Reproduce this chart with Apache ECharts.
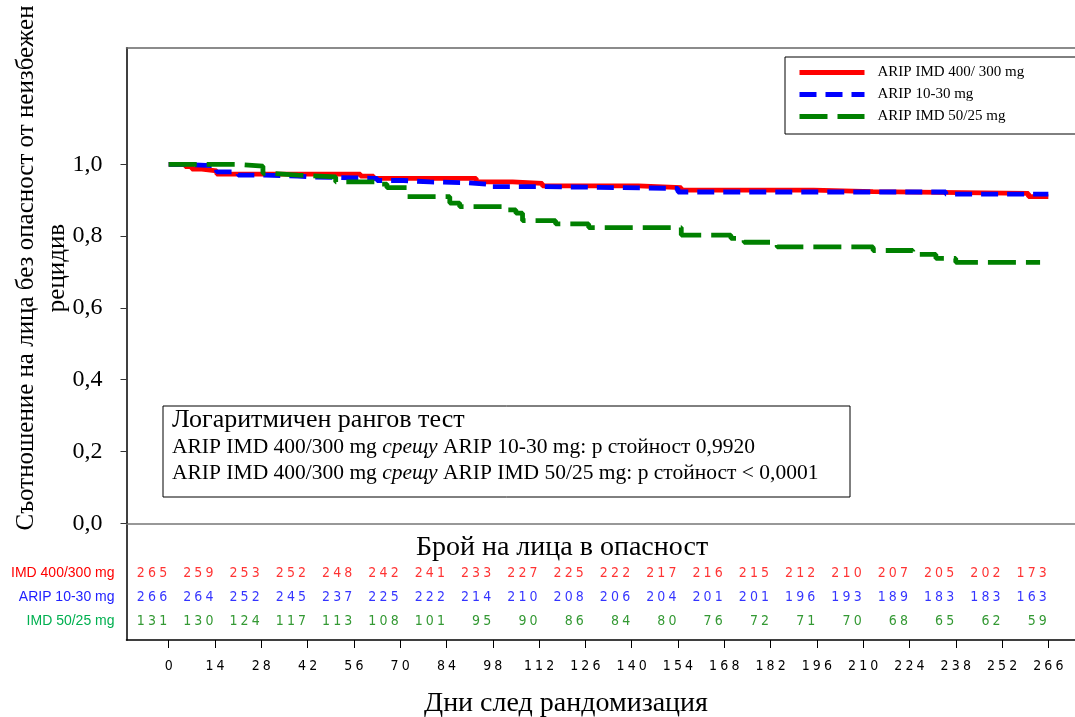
<!DOCTYPE html>
<html>
<head>
<meta charset="utf-8">
<script src="https://cdn.jsdelivr.net/npm/echarts@6/dist/echarts.min.js"></script>
<style>
html, body { margin:0; padding:0; background:#fff; }
#main { width:1075px; height:717px; }
</style>
</head>
<body>
<div id="main"></div>
<script>
// дни по оста X (и колони на таблицата "в опасност")
var tickDays = [0,14,28,42,56,70,84,98,112,126,140,154,168,182,196,210,224,238,252,266];
var yTicks = [0, 0.2, 0.4, 0.6, 0.8, 1.0];

var armNames = ['ARIP IMD 400/ 300 mg', 'ARIP 10-30 mg', 'ARIP IMD 50/25 mg'];
var rowNames = ['IMD 400/300 mg', 'ARIP 10-30 mg', 'IMD 50/25 mg'];

// брой на лица в опасност
var riskIMD400 = [265,259,253,252,248,242,241,233,227,225,222,217,216,215,212,210,207,205,202,173];
var riskARIP   = [266,264,252,245,237,225,222,214,210,208,206,204,201,201,196,193,189,183,183,163];
var riskIMD50  = [131,130,124,117,113,108,101,95,90,86,84,80,76,72,71,70,68,65,62,59];

// Kaplan-Meier стъпки (ден, дял без рецидив)
var kmIMD400Days = [0, 5, 7, 10, 14.5, 58, 62, 93, 104, 113, 142, 155, 195, 213, 260, 266];
var kmIMD400Surv = [1.0, 0.994, 0.987, 0.982, 0.973, 0.967, 0.961, 0.951, 0.947, 0.940, 0.935, 0.928, 0.924, 0.919, 0.910, 0.910];
var kmARIPDays = [0, 5, 14.5, 21, 29, 39, 43, 63, 71, 79, 90, 97, 112, 130, 154, 235, 266];
var kmARIPSurv = [1.0, 0.996, 0.979, 0.970, 0.967, 0.965, 0.961, 0.955, 0.951, 0.949, 0.944, 0.938, 0.936, 0.933, 0.923, 0.917, 0.917];
var kmIMD50Days = [0, 21, 28.5, 31, 39, 50.5, 63, 66, 72, 85, 88, 102, 105, 107, 117, 127, 155, 170, 174, 184, 213, 225, 232, 238, 263.5];
var kmIMD50Surv = [1.0, 0.995, 0.975, 0.970, 0.965, 0.951, 0.945, 0.935, 0.910, 0.892, 0.882, 0.873, 0.864, 0.843, 0.834, 0.824, 0.803, 0.794, 0.783, 0.770, 0.760, 0.749, 0.738, 0.727, 0.727];

var colors = ['#ff0000', '#0000ff', '#008000'];
var rowColors = ['#ff0000', '#2020ff', '#00b050'];

var serif = "'Liberation Serif', 'Times New Roman', serif";
var narrow = "'Liberation Sans Narrow', 'DejaVu Sans Condensed', 'Liberation Sans', sans-serif";

var xMin = -12.76, xMax = 274.06;

function zip(a, b) {
	var out = [];
	for (var i = 0; i < a.length; i++) out.push([a[i], b[i]]);
	return out;
}
function riskData(arr, row) {
	var out = [];
	for (var i = 0; i < arr.length; i++) out.push([tickDays[i], row, arr[i]]);
	return out;
}
// цифри с разредка, както в оригинала
function spaced(v) {
	return String(v).split('').join('\u2005');
}

var km = [zip(kmIMD400Days, kmIMD400Surv), zip(kmARIPDays, kmARIPSurv), zip(kmIMD50Days, kmIMD50Surv)];
var dashes = ['solid', [17, 9], [28, 10]];
var risks = [riskIMD400, riskARIP, riskIMD50];

var series = [];
for (var i = 0; i < 3; i++) {
	series.push({
		name: armNames[i],
		type: 'line',
		step: 'end',
		xAxisIndex: 0,
		yAxisIndex: 0,
		symbol: 'none',
		showSymbol: false,
		data: km[i],
		itemStyle: { color: colors[i] },
		lineStyle: { color: colors[i], width: 4.8, type: dashes[i] },
		z: 2 + i
	});
}
for (var i = 0; i < 3; i++) {
	series.push({
		name: 'risk' + i,
		type: 'scatter',
		xAxisIndex: 1,
		yAxisIndex: 1,
		symbolSize: 1,
		itemStyle: { color: 'transparent' },
		data: riskData(risks[i], i),
		label: {
			show: true,
			position: 'left',
			distance: 1,
			color: colors[i],
			fontFamily: narrow,
			fontSize: 14,
			formatter: function(p) { return spaced(p.value[2]); }
		},
		silent: true
	});
}

var rich = {};
for (var i = 0; i < 3; i++) {
	rich['r' + i] = { color: rowColors[i], fontFamily: "'Liberation Sans', sans-serif", fontSize: 14 };
}

var myChart = echarts.init(document.getElementById('main'));
var option = {
	animation: false,
	backgroundColor: '#fff',
	grid: [
		{ left: 126.5, right: 0, top: 47.7, height: 475.6 },
		{ left: 126.5, right: 0, top: 523.3, height: 116.7 }
	],
	xAxis: [
		{
			gridIndex: 0, type: 'value', min: xMin, max: xMax,
			axisLine: { show: true, onZero: false, lineStyle: { color: '#777', width: 1.5 } },
			axisTick: { show: false }, axisLabel: { show: false }, splitLine: { show: false }
		},
		{
			gridIndex: 1, type: 'value', min: xMin, max: xMax, position: 'bottom',
			axisLine: { show: true, onZero: false, lineStyle: { color: '#000', width: 1.5 } },
			axisTick: { show: true, length: 8, customValues: tickDays, lineStyle: { color: '#000' } },
			axisLabel: { customValues: tickDays, margin: 19, color: '#000', fontFamily: narrow, fontSize: 14, formatter: spaced },
			splitLine: { show: false }
		},
		{
			gridIndex: 0, type: 'value', min: xMin, max: xMax, position: 'top',
			axisLine: { show: true, onZero: false, lineStyle: { color: '#666', width: 1.5 } },
			axisTick: { show: false }, axisLabel: { show: false }, splitLine: { show: false }
		}
	],
	yAxis: [
		{
			gridIndex: 0, type: 'value', min: 0, max: 1.325,
			axisLine: { show: true, onZero: false, lineStyle: { color: '#000', width: 1.5 } },
			axisTick: { show: true, length: 6, customValues: yTicks, lineStyle: { color: '#333' } },
			axisLabel: {
				customValues: yTicks, margin: 24, color: '#000', fontFamily: serif, fontSize: 24,
				formatter: function(v) { return v.toFixed(1).replace('.', ','); }
			},
			splitLine: { show: false }
		},
		{
			gridIndex: 1, type: 'value', inverse: true, min: -2.071, max: 2.792,
			axisLine: { show: true, onZero: false, lineStyle: { color: '#000', width: 1.5 } },
			axisTick: { show: false },
			axisLabel: {
				customValues: [0, 1, 2], margin: 12,
				formatter: function(v) { return '{r' + v + '|' + rowNames[v] + '}'; },
				rich: rich
			},
			splitLine: { show: false }
		}
	],
	legend: {
		data: armNames,
		orient: 'vertical',
		left: 785,
		top: 57,
		itemWidth: 65,
		itemHeight: 14,
		itemGap: 7,
		padding: [8, 54, 10, 12],
		borderColor: '#000',
		borderWidth: 1,
		backgroundColor: '#fff',
		itemStyle: { color: 'transparent', borderWidth: 0 },
		lineStyle: { width: 5 },
		textStyle: { fontFamily: serif, fontSize: 15, color: '#000', padding: [0, 0, 0, 8] }
	},
	graphic: [
		{
			type: 'text',
			x: 42, y: 268,
			rotation: Math.PI / 2,
			style: {
				text: 'Съотношение на лица без опасност от неизбежен\nрецидив',
				font: '25px ' + serif,
				lineHeight: 31,
				align: 'center',
				verticalAlign: 'middle',
				fill: '#000'
			}
		},
		{
			type: 'text',
			x: 562, y: 548,
			style: { text: 'Брой на лица в опасност', font: '28px ' + serif, align: 'center', verticalAlign: 'middle', fill: '#000' }
		},
		{
			type: 'text',
			x: 566, y: 704,
			style: { text: 'Дни след рандомизация', font: '28px ' + serif, align: 'center', verticalAlign: 'middle', fill: '#000' }
		},
		{
			type: 'group',
			x: 163, y: 406,
			z: 10,
			children: [
				{
					type: 'rect',
					shape: { x: 0, y: 0, width: 687, height: 91 },
					style: { fill: '#fff', stroke: '#000', lineWidth: 1 }
				},
				{
					type: 'text',
					x: 9, y: 0,
					style: {
						text: '{t|Логаритмичен рангов тест}\n' +
							'{n|ARIP IMD 400/300 mg }{i|срещу}{n| ARIP 10-30 mg: p стойност 0,9920}\n' +
							'{n|ARIP IMD 400/300 mg }{i|срещу}{n| ARIP IMD 50/25 mg: p стойност < 0,0001}',
						rich: {
							t: { fontFamily: serif, fontSize: 26, lineHeight: 28, fill: '#000' },
							n: { fontFamily: serif, fontSize: 21.5, lineHeight: 26, fill: '#000' },
							i: { fontFamily: serif, fontSize: 21.5, lineHeight: 26, fontStyle: 'italic', fill: '#000' }
						},
						align: 'left',
						verticalAlign: 'top'
					}
				}
			]
		}
	],
	series: series
};
myChart.setOption(option);
</script>
</body>
</html>
